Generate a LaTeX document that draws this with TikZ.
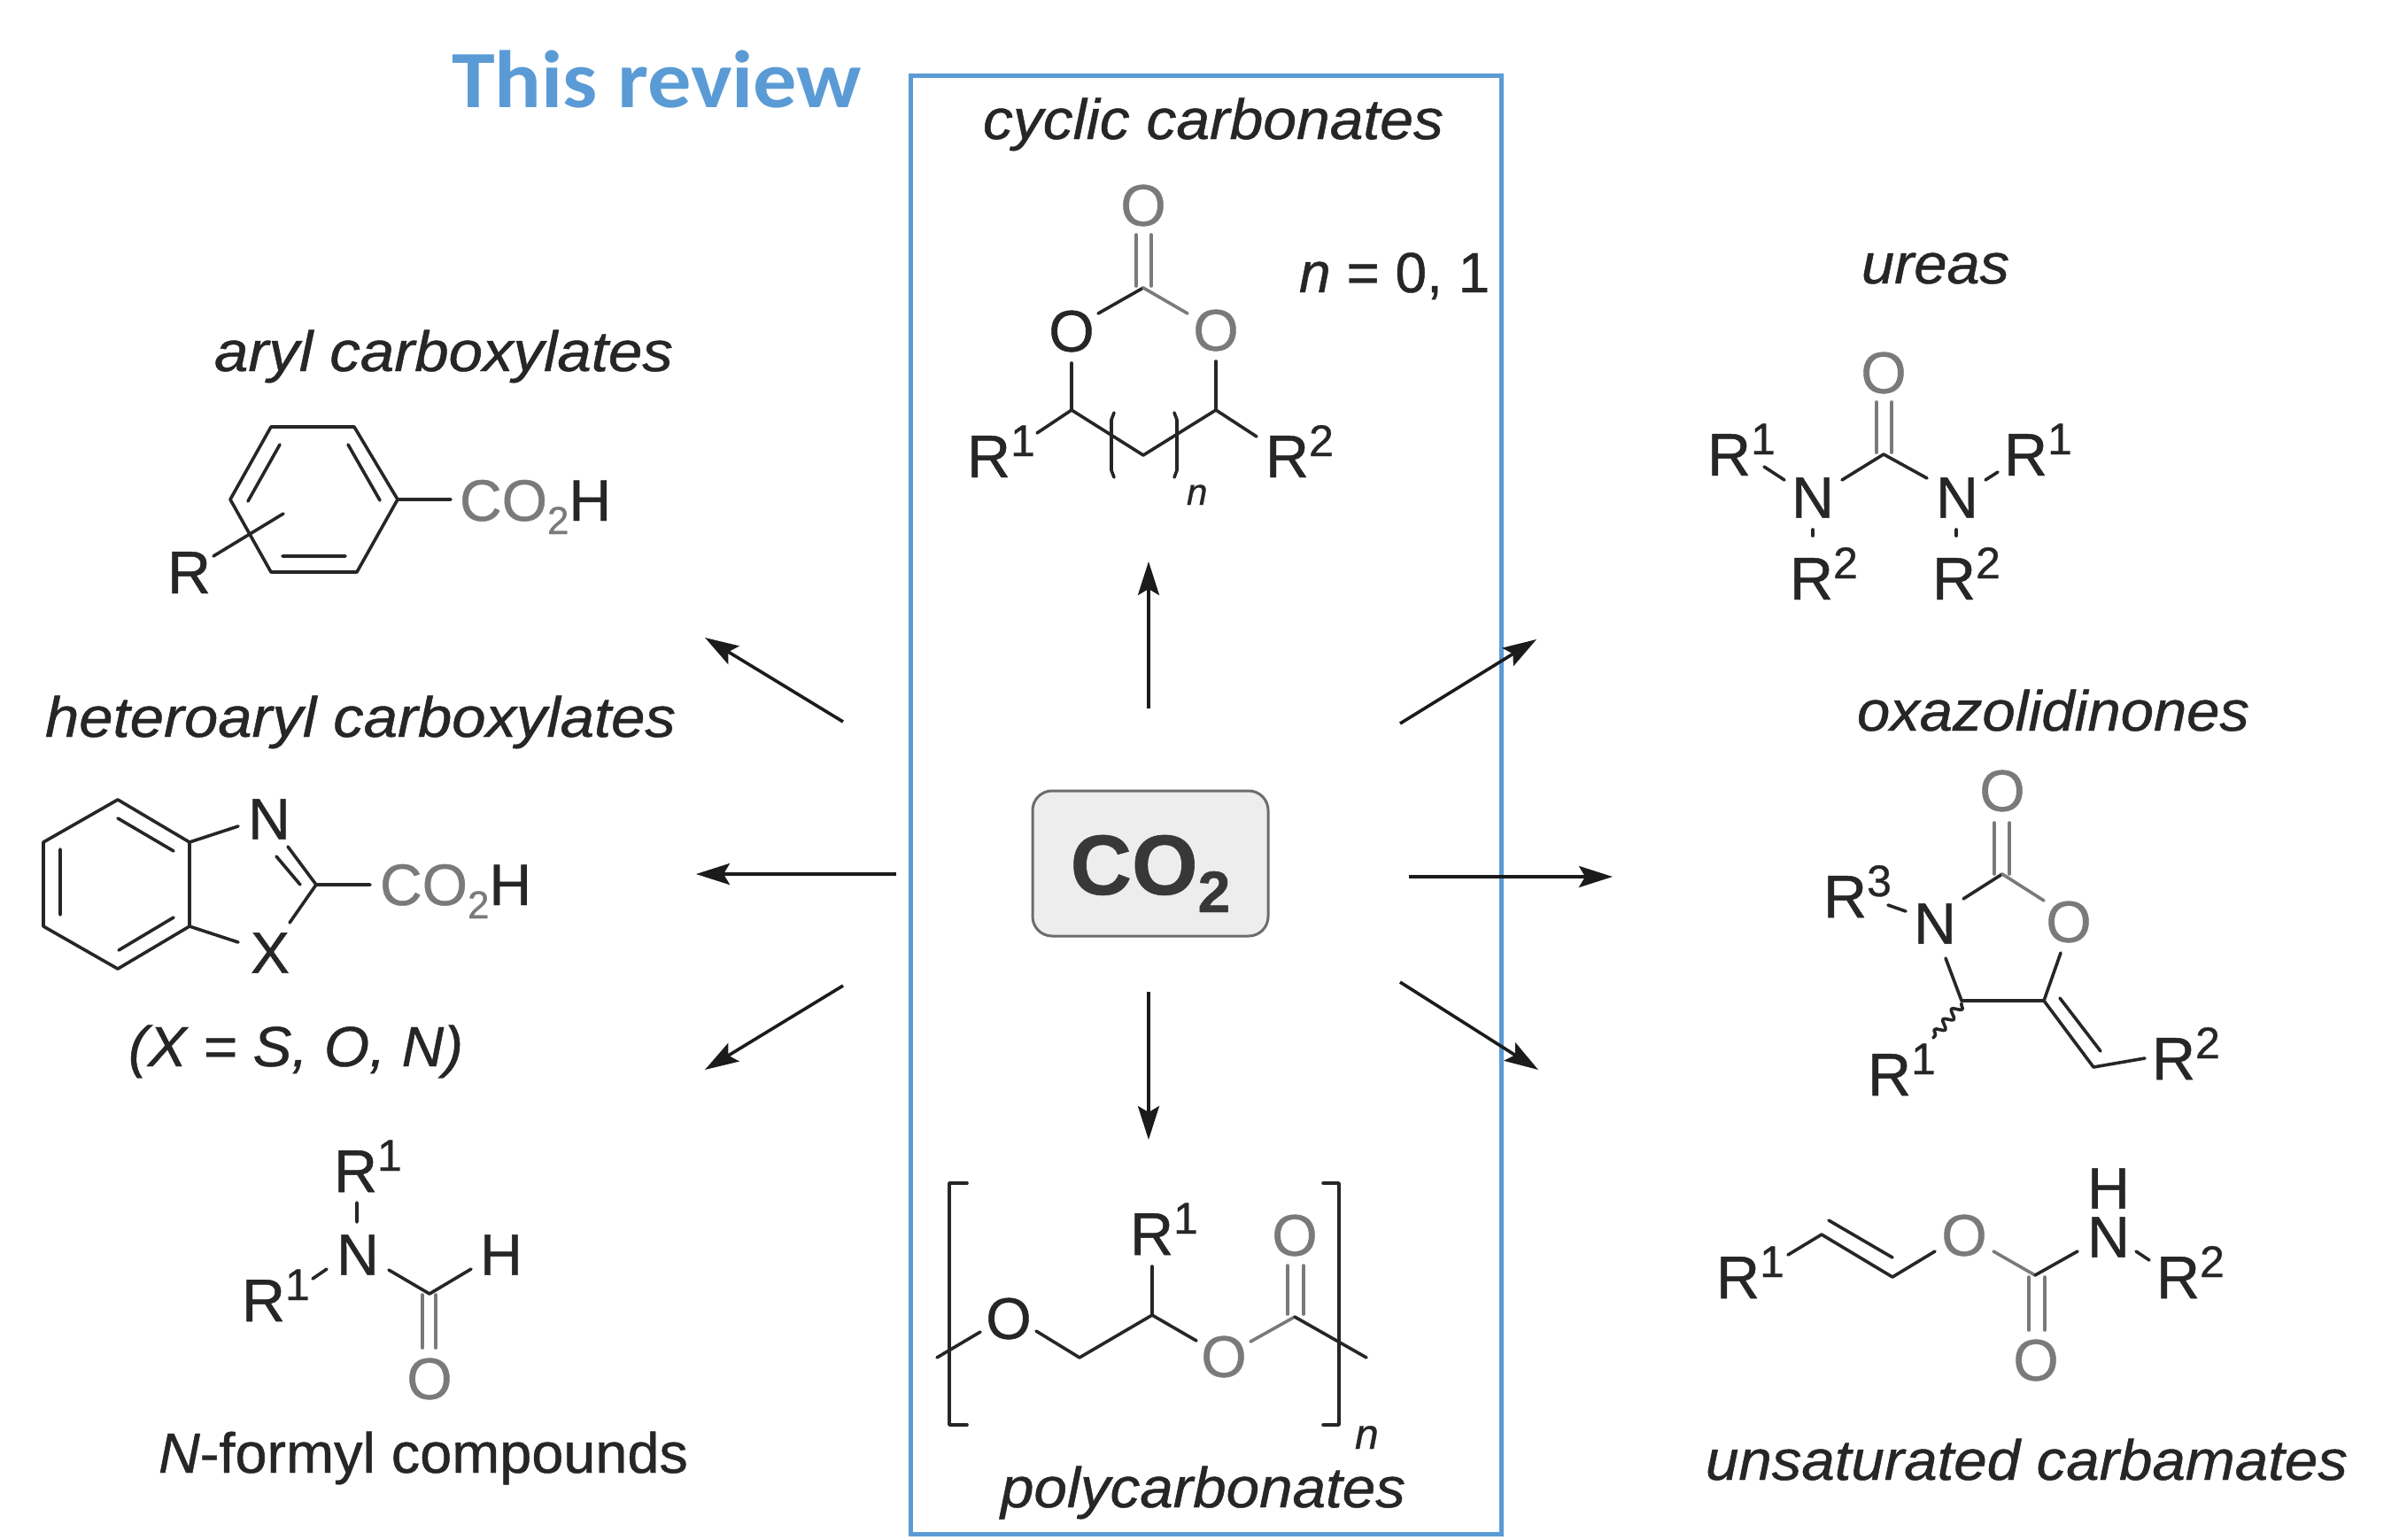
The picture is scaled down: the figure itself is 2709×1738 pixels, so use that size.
\documentclass[tikz,border=0pt]{standalone}
\usepackage{fontspec}
\usepackage{graphicx}
\setmainfont[RawFeature={embolden=0.7}]{Liberation Sans}
\newfontfamily\calib{Carlito}
\usetikzlibrary{arrows.meta,decorations.pathmorphing}
\definecolor{ink}{HTML}{262626}
\definecolor{gr}{HTML}{7A7A7A}
\definecolor{blu}{HTML}{5B9BD5}
\newcommand\sz[1]{\fontsize{#1}{#1}\selectfont}
\newcommand\Rn[1]{\kern-4pt{\sz{68}R}\raisebox{24pt}{\sz{50}#1}}
\newcommand\cooh{{\kern-2pt\sz{66}\color{gr}CO\raisebox{-15pt}{\sz{44}2}}{\sz{66}H}}
\tikzset{
  txt/.style={anchor=base west,inner sep=0pt,outer sep=0pt,font=\sz{64},text=ink},
  atom/.style={anchor=center,inner sep=0pt,outer sep=0pt,font=\sz{66},text=ink},
  oxy/.style={atom,text=gr},
  bond/.style={draw=ink,line width=3.6pt,line cap=round,line join=round},
  gbond/.style={draw=gr,line width=3.6pt,line cap=round},
  rxn/.style={draw=ink!70!black,line width=3.6pt,-{Stealth[length=38pt,width=24pt,inset=7pt]}}
}
\newcommand\lab[5]{\node[txt] (#1) at (#2,#3) {\resizebox{#4pt}{\height}{\itshape #5}};}
\begin{document}
\begin{tikzpicture}[x=1pt,y=-1pt]
\useasboundingbox (0,0) rectangle (2709,1738);
\fill[white] (0,0) rectangle (2709,1738);
% review frame
\node[txt,text=blu] (review) at (510,121) {\resizebox{463pt}{\height}{\calib\sz{92}\bfseries This review}};
\draw[blu,line width=5pt] (1028,85) rectangle (1695,1732);
% labels
\lab{lcyc}{1110}{157}{520}{cyclic carbonates}
\lab{lary}{242}{419}{518}{aryl carboxylates}
\lab{lhet}{51}{832}{712}{heteroaryl carboxylates}
\lab{lxso}{145}{1204}{378}{(X = S, O, N)}
\lab{lure}{2102}{320}{167}{ureas}
\lab{loxa}{2097}{825}{443}{oxazolidinones}
\lab{lunc}{1926}{1671}{725}{unsaturated carbamates}
\lab{lpol}{1130}{1702}{457}{polycarbonates}
\node[txt] (lfor) at (179,1663) {\resizebox{598pt}{\height}{\textit{N}-formyl compounds}};
% CO2 and arrows
\node[draw=gray!85!black,fill=black!7,line width=3pt,rounded corners=22pt,minimum width=266pt,minimum height=164pt,inner sep=0pt,font=\sz{96}\bfseries,text=black!78,text height=70pt,text depth=0pt] (co2) at (1299,975) {CO\raisebox{-20pt}{\sz{66}2}};
\coordinate (aU0) at (1297,800); \coordinate (aU1) at (1297,634);
\coordinate (aD0) at (1297,1120); \coordinate (aD1) at (1297,1287);
\coordinate (aR0) at (1591,990); \coordinate (aR1) at (1821,990);
\coordinate (aLR0) at (1581,1109); \coordinate (aLR1) at (1737,1208);
\coordinate (aUR0) at (1581,817); \coordinate (aUR1) at (1735,722);
\coordinate (aUL0) at (952,815); \coordinate (aUL1) at (796,720);
\coordinate (aL0) at (1012,987); \coordinate (aL1) at (786,987);
\coordinate (aLL0) at (952,1113); \coordinate (aLL1) at (796,1208);
\foreach \a in {U,D,R,LR,UR,UL,L,LL} \draw[rxn] (a\a0) -- (a\a1);
% cyclic carbonate
\node[oxy] (cO) at (1291,232) {O};
\node[atom] (cO1) at (1210,374) {O};
\node[oxy] (cO2) at (1373,373) {O};
\node[txt] (cR1) at (1096,539) {\Rn{1}};
\node[txt] (cR2) at (1433,539) {\Rn{2}};
\node[txt] (cnn) at (1467,330) {\textit{n} = 0, 1};
\node[txt,font=\sz{42}\itshape] (cn) at (1340,570) {n};
\draw[gbond] (1283,265) -- (1283,323) (1300,265) -- (1300,323);
\draw[bond] (1240,354) -- (1291,325);
\draw[gbond] (1291,325) -- (1341,354);
\draw[bond] (1210,410) -- (1210,463) (1373,408) -- (1373,463);
\draw[bond] (1171,489) -- (1210,463) -- (1291,514) -- (1373,463) -- (1419,493);
\draw[bond] (1258,466) -- (1255,474) -- (1255,531) -- (1258,539);
\draw[bond] (1326,466) -- (1329,474) -- (1329,531) -- (1326,539);
% benzoic acid
\node[txt] (aR) at (193,670) {\Rn{}};
\node[txt] (aC) at (521,588) {\cooh};
\draw[bond] (306,482) -- (400,482) -- (449,564) -- (403,646) -- (306,646) -- (260,564) -- cycle;
\draw[bond] (316,502) -- (280,566) (393,502) -- (429,565) (319,628) -- (390,628);
\draw[bond] (241,628) -- (320,580) (449,564) -- (509,564);
% benzoxazole
\node[atom] (hN) at (304,925) {N};
\node[atom] (hX) at (305,1076) {X};
\node[txt] (hC) at (431,1022) {\cooh};
\draw[bond] (214,951) -- (133,903) -- (49,951) -- (49,1046) -- (133,1094) -- (214,1046) -- cycle;
\draw[bond] (133,924) -- (196,961) (68,959) -- (68,1033) (134,1073) -- (196,1036);
\draw[bond] (214,951) -- (269,933) (214,1046) -- (269,1064);
\draw[bond] (325,956) -- (357,999) -- (327,1042) (312,967) -- (339,999) (357,999) -- (418,999);
% N-formyl
\node[txt] (fR1) at (381,1346) {\Rn{1}};
\node[txt] (fR2) at (277,1492) {\Rn{1}};
\node[atom] (fN) at (404,1417) {N};
\node[atom] (fH) at (566,1417) {H};
\node[oxy] (fO) at (485,1557) {O};
\draw[bond] (403,1358) -- (403,1380) (353,1444) -- (369,1433);
\draw[bond] (439,1434) -- (485,1461) -- (532,1433);
\draw[gbond] (477,1462) -- (477,1522) (492,1462) -- (492,1522);
% polycarbonate
\node[atom] (pO1) at (1139,1489) {O};
\node[oxy] (pO2) at (1382,1532) {O};
\node[oxy] (pO3) at (1462,1395) {O};
\node[txt] (pR) at (1280,1417) {\Rn{1}};
\node[txt,font=\sz{48}\itshape] (pn) at (1530,1636) {n};
\draw[bond] (1058,1533) -- (1107,1504);
\draw[bond] (1170,1503) -- (1219,1533) -- (1301,1485) -- (1351,1514);
\draw[bond] (1301,1430) -- (1301,1485);
\draw[gbond] (1412,1515) -- (1462,1487);
\draw[bond] (1462,1487) -- (1543,1533);
\draw[gbond] (1454,1429) -- (1454,1484) (1472,1429) -- (1472,1484);
\draw[bond] (1092,1336) -- (1072,1336) -- (1072,1609) -- (1092,1609);
\draw[bond] (1494,1336) -- (1512,1336) -- (1512,1609) -- (1494,1609);
% ureas
\node[oxy] (uO) at (2127,421) {O};
\node[atom] (uN1) at (2047,562) {N};
\node[atom] (uN2) at (2210,562) {N};
\node[txt] (uR1) at (1932,537) {\Rn{1}};
\node[txt] (uR2) at (2267,537) {\Rn{1}};
\node[txt] (uR3) at (2025,677) {\Rn{2}};
\node[txt] (uR4) at (2186,677) {\Rn{2}};
\draw[gbond] (2119,454) -- (2119,511) (2136,454) -- (2136,511);
\draw[bond] (2080,542) -- (2127,513) -- (2176,540);
\draw[bond] (1992,527) -- (2015,542) (2242,542) -- (2256,533);
\draw[bond] (2047,598) -- (2047,605) (2209,598) -- (2209,605);
% oxazolidinone
\node[oxy] (oO) at (2261,893) {O};
\node[atom] (oN) at (2185,1043) {N};
\node[oxy] (oO2) at (2336,1041) {O};
\node[txt] (oR3) at (2063,1036) {\Rn{3}};
\node[txt] (oR1) at (2113,1237) {\Rn{1}};
\node[txt] (oR2) at (2434,1219) {\Rn{2}};
\draw[gbond] (2252,929) -- (2252,987) (2269,929) -- (2269,987);
\draw[bond] (2217,1015) -- (2261,987);
\draw[gbond] (2261,987) -- (2308,1017);
\draw[bond] (2197,1082) -- (2215,1130) -- (2308,1130) -- (2327,1076);
\draw[bond] (2308,1130) -- (2364,1205) -- (2422,1195) (2326,1127) -- (2372,1187);
\draw[bond] (2132,1022) -- (2152,1029);
\draw[bond,decorate,decoration={snake,amplitude=5pt,segment length=15pt}] (2215,1133) -- (2183,1172);
% carbamate
\node[txt] (nR1) at (1942,1466) {\Rn{1}};
\node[txt] (nR2) at (2439,1466) {\Rn{2}};
\node[oxy] (nO) at (2218,1395) {O};
\node[atom] (nN) at (2381,1397) {N};
\node[atom] (nH) at (2381,1342) {H};
\node[oxy] (nO2) at (2299,1536) {O};
\draw[bond] (2019,1417) -- (2057,1394) -- (2137,1442) -- (2185,1413) (2065,1378) -- (2137,1420);
\draw[gbond] (2251,1413) -- (2298,1440);
\draw[bond] (2298,1440) -- (2346,1413) (2412,1413) -- (2427,1423);
\draw[gbond] (2291,1442) -- (2291,1502) (2309,1442) -- (2309,1502);
\end{tikzpicture}
\end{document}
